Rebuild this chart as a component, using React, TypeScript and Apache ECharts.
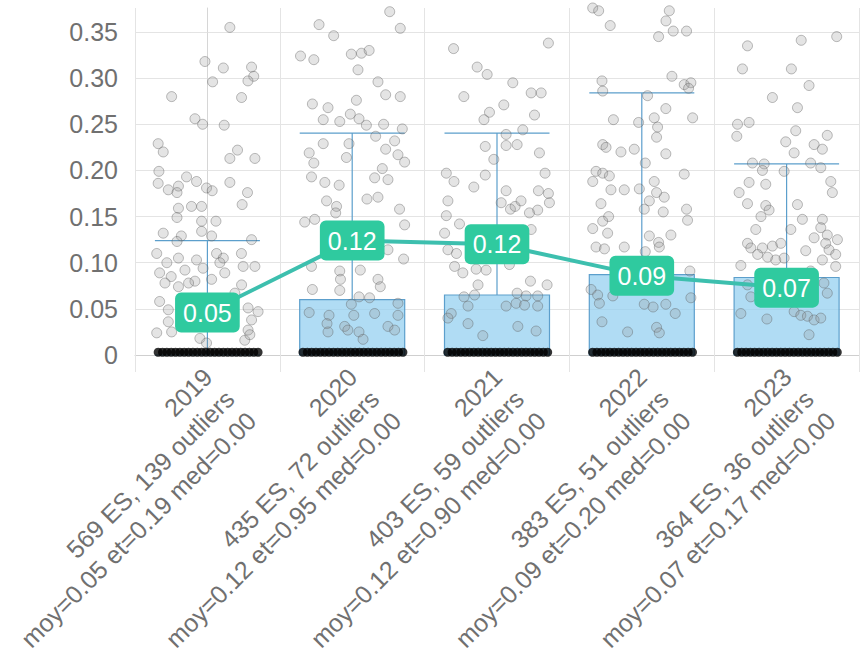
import React, { useEffect, useRef } from "react";
import * as echarts from "echarts";

const years = ["2019", "2020", "2021", "2022", "2023"];
const esCounts = [569, 435, 403, 383, 364];
const outlierCounts = [139, 72, 59, 51, 36];
const means = [0.046, 0.124, 0.12, 0.086, 0.073];
const stdDevs = [0.19, 0.95, 0.9, 0.2, 0.17];
const medians = [0, 0, 0, 0, 0];
const q1 = [0, 0, 0, 0, 0];
const q3 = [0, 0.06, 0.065, 0.087, 0.084];
const lowerWhisker = [0, 0, 0, 0, 0];
const upperWhisker = [0.124, 0.2405, 0.2405, 0.284, 0.207];
const yTickValues = [0, 0.05, 0.1, 0.15, 0.2, 0.25, 0.3, 0.35];

// [offset within category, value]
const pts2019 = [
  [0.155, 0.355], [-0.017, 0.318], [0.11, 0.311], [0.305, 0.312], [0.32, 0.302], [0.28, 0.297], [0.036, 0.296],
  [-0.247, 0.28], [0.236, 0.279], [-0.086, 0.256], [-0.033, 0.25], [0.116, 0.249], [-0.34, 0.229], [-0.305, 0.22],
  [0.208, 0.222], [0.155, 0.213], [0.328, 0.213], [-0.335, 0.199], [-0.144, 0.193], [-0.34, 0.186], [-0.075, 0.188],
  [-0.27, 0.179], [-0.2, 0.183], [-0.21, 0.176], [-0.006, 0.181], [0.033, 0.178], [0.155, 0.187], [0.277, 0.176],
  [0.24, 0.163], [-0.2, 0.159], [-0.11, 0.161], [-0.04, 0.161], [-0.21, 0.149], [-0.04, 0.145], [0.059, 0.145],
  [-0.305, 0.132], [-0.18, 0.129], [-0.04, 0.134], [0.029, 0.129], [-0.21, 0.123], [0.305, 0.125], [-0.35, 0.11],
  [-0.28, 0.1], [-0.2, 0.105], [-0.075, 0.103], [0.063, 0.11], [0.11, 0.105], [0.235, 0.11], [-0.33, 0.089],
  [-0.25, 0.085], [-0.155, 0.092], [-0.03, 0.094], [0.086, 0.1], [0.247, 0.096], [0.328, 0.096], [-0.293, 0.078],
  [-0.2, 0.074], [-0.086, 0.08], [0.029, 0.082], [0.236, 0.076], [-0.33, 0.058], [-0.27, 0.049], [0.281, 0.051],
  [0.35, 0.047], [0.305, 0.038], [-0.27, 0.036], [-0.35, 0.024], [-0.247, 0.025], [0.281, 0.027], [0.258, 0.016],
  [-0.052, 0.018], [-0.006, 0.013], [0.293, 0.022], [-0.13, 0.078], [0.12, 0.089], [0.19, 0.067],
];
const pts2020 = [
  [0.259, 0.372], [-0.229, 0.358], [0.332, 0.354], [-0.128, 0.346], [-0.357, 0.324], [-0.265, 0.32], [-0.006, 0.326],
  [0.064, 0.327], [0.117, 0.33], [0.04, 0.309], [0.178, 0.296], [0.231, 0.282], [0.332, 0.28], [-0.275, 0.272],
  [-0.167, 0.268], [0.029, 0.276], [-0.2, 0.255], [-0.086, 0.253], [-0.013, 0.261], [0.047, 0.256], [0.098, 0.249],
  [0.217, 0.25], [0.346, 0.245], [0.162, 0.237], [0.293, 0.232], [-0.2, 0.229], [-0.022, 0.229], [-0.297, 0.219],
  [0.231, 0.223], [0.316, 0.217], [-0.04, 0.214], [-0.265, 0.208], [0.362, 0.209], [-0.281, 0.193], [0.155, 0.192],
  [0.247, 0.19], [0.208, 0.202], [-0.189, 0.187], [-0.09, 0.184], [0.102, 0.169], [0.178, 0.171], [-0.177, 0.167],
  [-0.108, 0.161], [0.327, 0.158], [-0.328, 0.144], [-0.259, 0.147], [-0.114, 0.154], [0.362, 0.141], [-0.281, 0.096],
  [0.247, 0.114], [0.355, 0.104], [0.056, 0.092], [-0.086, 0.091], [-0.081, 0.082], [0.178, 0.082], [0.194, 0.074],
  [-0.275, 0.071], [-0.086, 0.07], [0.047, 0.063], [0.12, 0.062], [0.316, 0.056], [-0.006, 0.055], [-0.297, 0.046],
  [-0.16, 0.043], [0.011, 0.043], [0.155, 0.045], [0.316, 0.043], [-0.174, 0.034], [-0.052, 0.031], [0.247, 0.031],
  [0.293, 0.027], [-0.167, 0.025], [0.047, 0.025], [-0.03, 0.027], [0.075, 0.017],
];
const pts2021 = [
  [0.162, 0.377], [0.355, 0.338], [-0.3, 0.332], [-0.137, 0.312], [-0.068, 0.304], [0.109, 0.295], [-0.229, 0.28],
  [0.236, 0.284], [0.305, 0.284], [0.047, 0.271], [-0.052, 0.263], [0.259, 0.26], [-0.09, 0.255], [0.178, 0.244],
  [0.063, 0.239], [0.063, 0.227], [0.139, 0.228], [-0.081, 0.226], [0.293, 0.219], [-0.022, 0.212], [-0.35, 0.197],
  [-0.297, 0.188], [-0.081, 0.195], [0.332, 0.197], [-0.16, 0.182], [0.063, 0.178], [0.286, 0.178], [0.355, 0.175],
  [-0.339, 0.167], [0.029, 0.165], [0.093, 0.158], [0.125, 0.161], [0.166, 0.167], [0.281, 0.157], [0.224, 0.154],
  [0.362, 0.165], [-0.35, 0.151], [-0.259, 0.142], [-0.362, 0.132], [-0.339, 0.114], [-0.28, 0.11], [0.236, 0.136],
  [-0.293, 0.096], [-0.236, 0.089], [-0.144, 0.093], [-0.075, 0.092], [0.086, 0.098], [-0.131, 0.076], [0.231, 0.08],
  [0.346, 0.076], [-0.228, 0.063], [-0.155, 0.065], [0.139, 0.067], [0.201, 0.064], [0.281, 0.064], [-0.2, 0.053],
  [0.063, 0.053], [0.132, 0.056], [0.19, 0.054], [0.281, 0.053], [-0.316, 0.045], [-0.339, 0.04], [-0.2, 0.034],
  [0.144, 0.031], [0.27, 0.026], [-0.098, 0.021],
];
const pts2022 = [
  [-0.339, 0.376], [-0.298, 0.373], [0.19, 0.373], [0.305, 0.378], [0.167, 0.362], [-0.218, 0.357], [0.217, 0.351],
  [0.309, 0.351], [0.116, 0.345], [-0.275, 0.297], [0.208, 0.302], [0.293, 0.293], [0.339, 0.295], [0.323, 0.289],
  [-0.27, 0.286], [0.04, 0.281], [0.166, 0.267], [-0.196, 0.255], [0.086, 0.257], [0.351, 0.257], [-0.022, 0.252],
  [0.109, 0.247], [0.102, 0.236], [-0.27, 0.228], [-0.247, 0.225], [-0.144, 0.22], [-0.052, 0.223], [0.166, 0.218],
  [0.024, 0.208], [-0.316, 0.199], [-0.27, 0.197], [-0.339, 0.188], [-0.224, 0.194], [0.293, 0.196], [0.086, 0.188],
  [-0.213, 0.179], [-0.121, 0.179], [-0.017, 0.18], [0.102, 0.176], [0.155, 0.171], [0.052, 0.167], [-0.282, 0.164],
  [-0.229, 0.15], [0.017, 0.158], [0.148, 0.155], [0.309, 0.158], [0.316, 0.146], [-0.339, 0.137], [-0.27, 0.145],
  [-0.236, 0.132], [0.052, 0.129], [0.201, 0.13], [0.116, 0.122], [-0.316, 0.117], [-0.258, 0.115], [-0.121, 0.117],
  [0.121, 0.117], [0.024, 0.112], [0.332, 0.091], [-0.35, 0.071], [-0.305, 0.065], [-0.2, 0.064], [-0.293, 0.056],
  [0.339, 0.062], [0.017, 0.055], [0.078, 0.052], [0.166, 0.055], [0.231, 0.045], [-0.275, 0.036], [-0.098, 0.025],
  [0.102, 0.03], [0.121, 0.024],
];
const pts2023 = [
  [0.346, 0.345], [-0.27, 0.335], [0.101, 0.341], [-0.305, 0.31], [0.033, 0.31], [0.155, 0.292], [-0.098, 0.279],
  [0.075, 0.268], [-0.339, 0.25], [-0.259, 0.252], [-0.344, 0.237], [0.063, 0.243], [-0.006, 0.231], [0.281, 0.238],
  [0.19, 0.228], [0.247, 0.223], [0.052, 0.219], [-0.236, 0.208], [-0.155, 0.207], [0.166, 0.208], [-0.167, 0.2],
  [-0.017, 0.199], [0.236, 0.203], [-0.259, 0.187], [-0.144, 0.185], [0.305, 0.188], [-0.328, 0.176], [-0.27, 0.164],
  [0.316, 0.176], [-0.144, 0.162], [-0.121, 0.157], [0.075, 0.163], [-0.177, 0.15], [0.109, 0.147], [0.247, 0.147],
  [0.029, 0.136], [-0.213, 0.136], [0.236, 0.138], [0.281, 0.13], [0.19, 0.127], [0.351, 0.125], [-0.27, 0.121],
  [-0.247, 0.116], [-0.167, 0.116], [-0.098, 0.118], [-0.04, 0.121], [0.27, 0.121], [0.132, 0.113], [0.293, 0.114],
  [-0.2, 0.109], [-0.131, 0.106], [-0.075, 0.103], [-0.017, 0.105], [0.339, 0.109], [0.247, 0.103], [-0.316, 0.097],
  [0.339, 0.096], [0.166, 0.091], [-0.27, 0.076], [0.258, 0.078], [-0.247, 0.063], [0.281, 0.067], [-0.316, 0.045],
  [0.052, 0.047], [0.098, 0.043], [0.144, 0.042], [0.19, 0.038], [0.236, 0.04], [-0.136, 0.039], [0.155, 0.022],
];
const pointsByYear = [pts2019, pts2020, pts2021, pts2022, pts2023];

// offsets of the (near-)zero effect sizes drawn as black dots on the baseline
const zeroOffsets = [
  -0.34, -0.31, -0.28, -0.25, -0.22, -0.19, -0.16, -0.13, -0.1, -0.07, -0.04, -0.01,
  0.02, 0.05, 0.08, 0.11, 0.14, 0.17, 0.2, 0.23, 0.26, 0.29, 0.32, 0.35,
];
const zeroValue = 0.003;

export default function App() {
  const ref = useRef<HTMLDivElement>(null);

  useEffect(() => {
    if (!ref.current) return;
    const chart = echarts.init(ref.current, null, { renderer: "svg" });

    const labels = years.map(
      (y, i) =>
        `${y}\n${esCounts[i]} ES, ${outlierCounts[i]} outliers\nmoy=${means[i].toFixed(2)} et=${stdDevs[i].toFixed(
          2
        )} med=${medians[i].toFixed(2)}`
    );

    const boxData = years.map((_, i) => [lowerWhisker[i], q1[i], medians[i], q3[i], upperWhisker[i]]);

    const scatterData: number[][] = [];
    pointsByYear.forEach((pts, i) => pts.forEach((p) => scatterData.push([i + p[0], p[1]])));

    const zeroData: number[][] = [];
    years.forEach((_, i) => zeroOffsets.forEach((o) => zeroData.push([i + o, zeroValue])));

    const gridColor = "#e4e4e4";
    const font = "'Liberation Sans', Arial, Helvetica, sans-serif";

    chart.setOption({
      animation: false,
      textStyle: { fontFamily: font },
      grid: { left: 135, right: 6, top: 8, bottom: 299, containLabel: false, outerBoundsMode: "none" },
      xAxis: [
        {
          type: "category",
          data: labels,
          boundaryGap: true,
          axisLine: { show: true, lineStyle: { color: "#cfcfcf" } },
          axisTick: { show: true, length: 17, lineStyle: { color: gridColor } },
          splitLine: { show: true, interval: 0, lineStyle: { color: gridColor } },
          axisLabel: {
            interval: 0,
            rotate: 45,
            margin: -4,
            padding: [0, 15, 0, 0],
            fontSize: 25,
            lineHeight: 31,
            color: "#707070",
            fontFamily: font,
            align: "right",
            verticalAlign: "top",
            hideOverlap: false,
          },
        },
        {
          type: "value",
          min: -0.5,
          max: 4.5,
          show: false,
        },
      ],
      yAxis: {
        type: "value",
        min: 0,
        max: 0.376,
        interval: 0.05,
        axisLine: { show: true, lineStyle: { color: "#d6d6d6" } },
        axisTick: { show: true, length: 17, lineStyle: { color: gridColor } },
        splitLine: {
          show: true,
          lineStyle: {
            color: [...yTickValues.map(() => gridColor), "rgba(0,0,0,0)"],
          },
        },
        axisLabel: {
          margin: 17,
          fontSize: 25,
          color: "#707070",
          fontFamily: font,
          showMaxLabel: false,
          formatter: (v: number) => (v === 0 ? "0" : v.toFixed(2)),
        },
      },
      series: [
        {
          type: "boxplot",
          xAxisIndex: 0,
          data: boxData,
          boxWidth: [105, 105],
          z: 2,
          itemStyle: {
            color: "rgba(150,208,240,0.75)",
            borderColor: "#5c9fcc",
            borderWidth: 1.2,
          },
        },
        {
          type: "scatter",
          xAxisIndex: 1,
          data: scatterData,
          symbolSize: 10,
          z: 3,
          itemStyle: {
            color: "rgba(150,150,150,0.32)",
            borderColor: "rgba(90,90,90,0.5)",
            borderWidth: 1,
          },
        },
        {
          type: "scatter",
          xAxisIndex: 1,
          data: zeroData,
          symbolSize: 9,
          z: 4,
          itemStyle: { color: "#000" },
        },
        {
          type: "line",
          xAxisIndex: 0,
          data: means,
          z: 5,
          symbol: "circle",
          symbolSize: 4,
          showSymbol: true,
          lineStyle: { color: "#3dbfae", width: 4 },
          itemStyle: { color: "#3dbfae" },
          label: {
            show: true,
            position: "inside",
            formatter: (p: any) => Number(p.value).toFixed(2),
            color: "#fff",
            fontSize: 25,
            fontFamily: font,
            backgroundColor: "#2fca9f",
            padding: [8, 8, 7, 8],
            borderRadius: 6,
          },
        },
      ],
    });

    return () => chart.dispose();
  }, []);

  return (
    <div
      ref={ref}
      style={{ position: "absolute", left: 0, top: 0, width: 865, height: 654, background: "#fff" }}
    />
  );
}
